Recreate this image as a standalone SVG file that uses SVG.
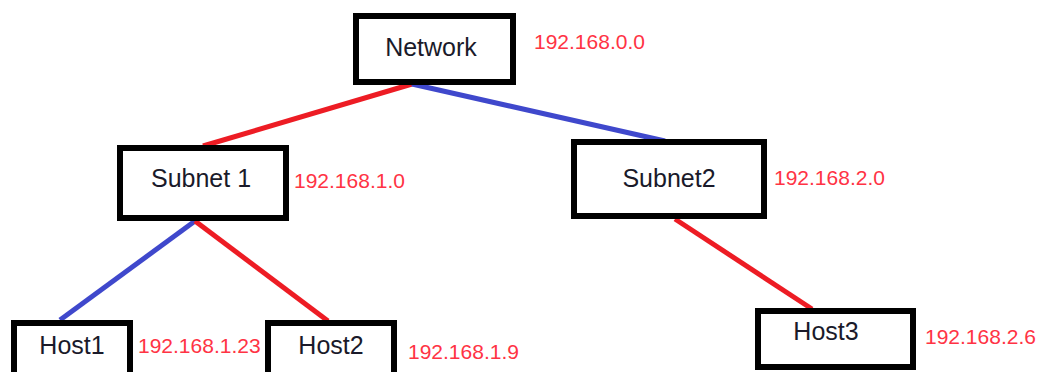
<svg xmlns="http://www.w3.org/2000/svg" width="1039" height="372" viewBox="0 0 1039 372">
<style>
.box{fill:#fff;stroke:#000;stroke-width:6}
.lbl{font-family:"Liberation Sans",Arial,sans-serif;font-size:25px;fill:#1a1a2a;text-anchor:middle}
.ip{font-family:"Liberation Sans",Arial,sans-serif;font-size:21px;fill:#ff3344}
.r{stroke:#ed1c24;stroke-width:5;fill:none}
.b{stroke:#3f48cc;stroke-width:5;fill:none}
</style>
<rect width="1039" height="372" fill="#fff"/>
<g id="connectors">
<line class="r" x1="412" y1="84" x2="203" y2="146"/>
<line class="b" x1="412" y1="84" x2="665" y2="141"/>
<line class="b" x1="195" y1="221" x2="60" y2="320"/>
<line class="r" x1="195" y1="221" x2="328" y2="321"/>
<line class="r" x1="675" y1="219" x2="812" y2="309"/>
</g>
<g id="network">
<rect class="box" x="356" y="16" width="157" height="66"/>
<text class="lbl" x="431" y="56">Network</text>
<text class="ip" x="534" y="49">192.168.0.0</text>
</g>
<g id="subnet1">
<rect class="box" x="120" y="148" width="166" height="70"/>
<text class="lbl" x="201" y="187">Subnet 1</text>
<text class="ip" x="294" y="188">192.168.1.0</text>
</g>
<g id="subnet2">
<rect class="box" x="574" y="142" width="190" height="74"/>
<text class="lbl" x="669" y="187">Subnet2</text>
<text class="ip" x="774" y="185">192.168.2.0</text>
</g>
<g id="host1">
<rect class="box" x="14" y="323" width="116" height="60"/>
<text class="lbl" x="72" y="354">Host1</text>
<text class="ip" x="138" y="353">192.168.1.23</text>
</g>
<g id="host2">
<rect class="box" x="268" y="323" width="126" height="60"/>
<text class="lbl" x="331" y="354">Host2</text>
<text class="ip" x="408" y="359">192.168.1.9</text>
</g>
<g id="host3">
<rect class="box" x="758" y="311" width="155" height="56"/>
<text class="lbl" x="826" y="340">Host3</text>
<text class="ip" x="925" y="344">192.168.2.6</text>
</g>
</svg>
